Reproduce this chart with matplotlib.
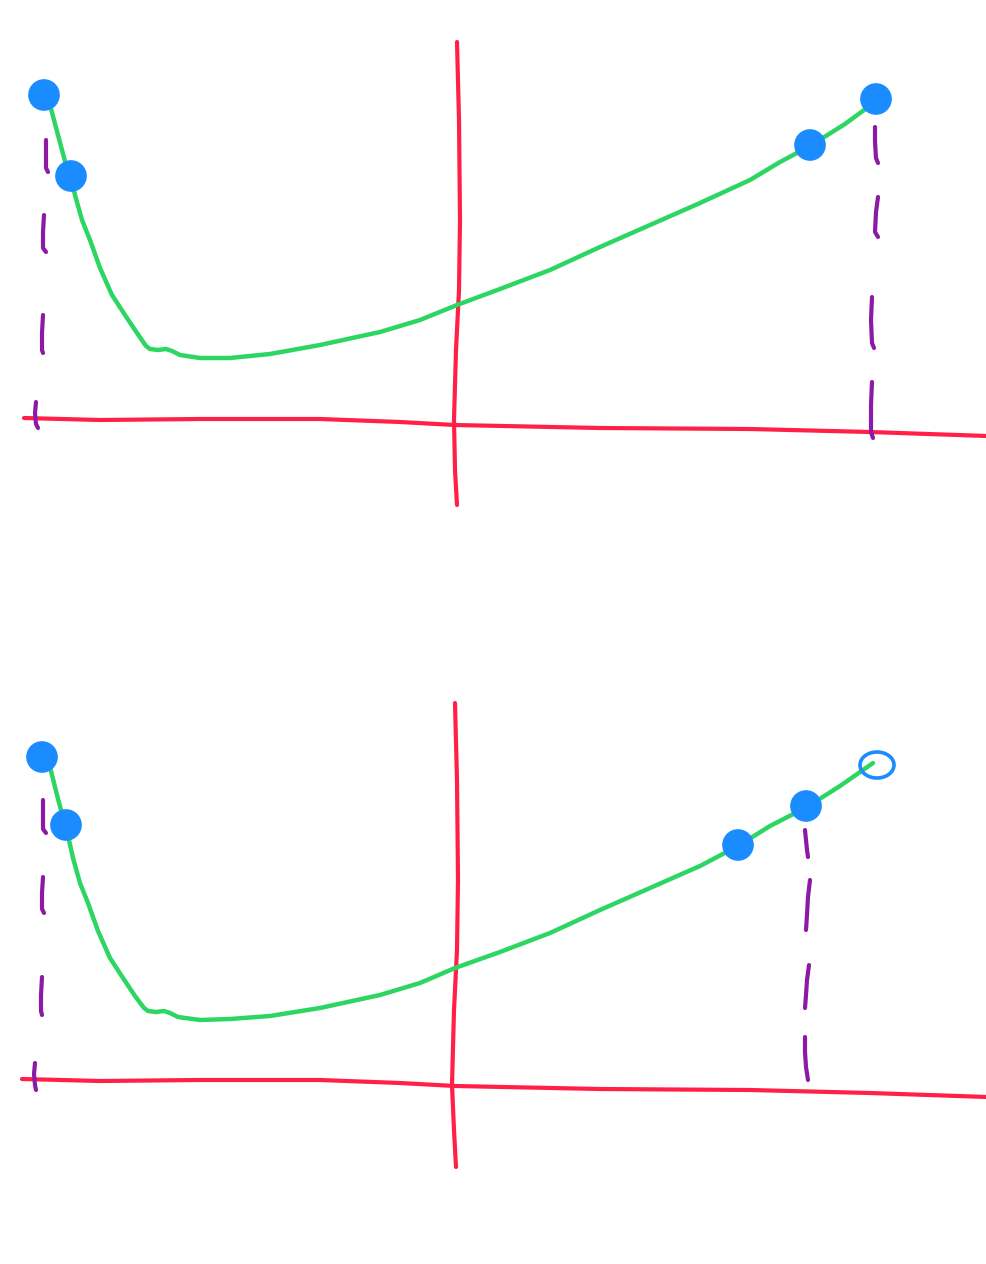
import matplotlib
matplotlib.use("Agg")
import matplotlib.pyplot as plt
from matplotlib.patches import Ellipse

# Sketch coordinates (pixels, y grows downward)

# ---- top panel ----
top_xaxis_x = [24, 100, 200, 320, 400, 455, 600, 750, 870, 987]
top_xaxis_y = [418, 420, 419, 419, 422, 425, 428, 429, 432, 436]
top_yaxis_x = [457, 459, 460, 459, 456, 454, 455, 457]
top_yaxis_y = [42, 120, 220, 290, 350, 420, 470, 505]
top_curve_x = [50, 58, 66, 71, 75, 82, 90, 100, 112, 125, 137, 146, 150, 158, 166, 172, 180, 200, 230, 270, 320, 380, 420, 457, 500, 550, 600, 650, 700, 750, 780, 810, 845, 875]
top_curve_y = [105, 135, 165, 178, 195, 220, 240, 268, 295, 315, 333, 346, 349, 350, 349, 351, 355, 358, 358, 354, 345, 332, 320, 305, 289, 270, 247, 225, 203, 180, 162, 146, 124, 102]
top_dots_x = [44, 71, 810, 876]
top_dots_y = [95, 176, 145, 99]
top_left_dash_x = [[46, 46, 46, 48], [44, 43, 43, 46], [43, 42, 42, 43], [36, 35, 36, 38]]
top_left_dash_y = [[140, 155, 168, 172], [215, 232, 248, 252], [315, 333, 350, 353], [402, 413, 424, 428]]
top_right_dash_x = [[875, 875, 876, 878], [878, 876, 875, 878], [872, 871, 872, 874], [872, 871, 871, 873]]
top_right_dash_y = [[127, 142, 158, 163], [197, 212, 232, 237], [297, 320, 343, 348], [382, 405, 432, 438]]

# ---- bottom panel ----
bot_xaxis_x = [22, 100, 200, 320, 400, 455, 600, 750, 870, 987]
bot_xaxis_y = [1079, 1081, 1080, 1080, 1083, 1086, 1089, 1090, 1093, 1097]
bot_yaxis_x = [455, 457, 458, 457, 454, 452, 454, 456]
bot_yaxis_y = [703, 780, 880, 950, 1010, 1085, 1130, 1167]
bot_curve_x = [49, 57, 65, 69, 73, 80, 88, 98, 110, 123, 135, 144, 148, 156, 164, 170, 178, 200, 230, 270, 320, 380, 420, 455, 500, 550, 600, 650, 700, 738, 770, 807, 840, 873]
bot_curve_y = [763, 795, 825, 840, 858, 883, 903, 931, 958, 978, 996, 1008, 1011, 1012, 1011, 1013, 1017, 1020, 1019, 1016, 1008, 995, 983, 968, 952, 933, 910, 888, 866, 846, 826, 807, 786, 763]
bot_dots_x = [42, 66, 738, 806]
bot_dots_y = [757, 825, 845, 806]
bot_open_x = [877]
bot_open_y = [765]
bot_left_dash_x = [[43, 43, 43, 46], [43, 42, 42, 44], [42, 41, 41, 42], [35, 34, 35, 36]]
bot_left_dash_y = [[800, 815, 829, 833], [877, 893, 909, 913], [977, 995, 1011, 1015], [1063, 1074, 1085, 1090]]
bot_right_dash_x = [[805, 806, 807, 808], [810, 808, 807, 806], [809, 807, 806, 805], [805, 805, 806, 808]]
bot_right_dash_y = [[830, 840, 850, 857], [880, 897, 915, 930], [965, 980, 995, 1008], [1037, 1052, 1067, 1080]]

red = "#ff1f47"
green = "#2dd662"
blue = "#1a8cff"
purple = "#8d1aa6"

fig = plt.figure(figsize=(9.87, 12.64), dpi=100)
ax = fig.add_axes([0, 0, 1, 1])
ax.set_xlim(0, 987)
ax.set_ylim(1264, 0)
ax.axis("off")

def panel(xax_x, xax_y, yax_x, yax_y, cx, cy, dx, dy, ldx, ldy, rdx, rdy):
    ax.plot(xax_x, xax_y, color=red, lw=3.0, solid_capstyle="round",
            solid_joinstyle="round", zorder=1)
    ax.plot(yax_x, yax_y, color=red, lw=3.0, solid_capstyle="round",
            solid_joinstyle="round", zorder=1)
    for xs, ys in zip(ldx + rdx, ldy + rdy):
        ax.plot(xs, ys, color=purple, lw=3.0, solid_capstyle="round",
                solid_joinstyle="round", zorder=2)
    ax.plot(cx, cy, color=green, lw=3.2, solid_capstyle="round",
            solid_joinstyle="round", zorder=3)
    ax.scatter(dx, dy, s=520, color=blue, edgecolors="none", zorder=4)

panel(top_xaxis_x, top_xaxis_y, top_yaxis_x, top_yaxis_y,
      top_curve_x, top_curve_y, top_dots_x, top_dots_y,
      top_left_dash_x, top_left_dash_y, top_right_dash_x, top_right_dash_y)
panel(bot_xaxis_x, bot_xaxis_y, bot_yaxis_x, bot_yaxis_y,
      bot_curve_x, bot_curve_y, bot_dots_x, bot_dots_y,
      bot_left_dash_x, bot_left_dash_y, bot_right_dash_x, bot_right_dash_y)

# open circle at the end of the bottom curve
for ox, oy in zip(bot_open_x, bot_open_y):
    ax.add_patch(Ellipse((ox, oy), 34, 26, fill=False, edgecolor=blue, lw=2.6, zorder=4))

fig.savefig("out.png", dpi=100, facecolor="white")
